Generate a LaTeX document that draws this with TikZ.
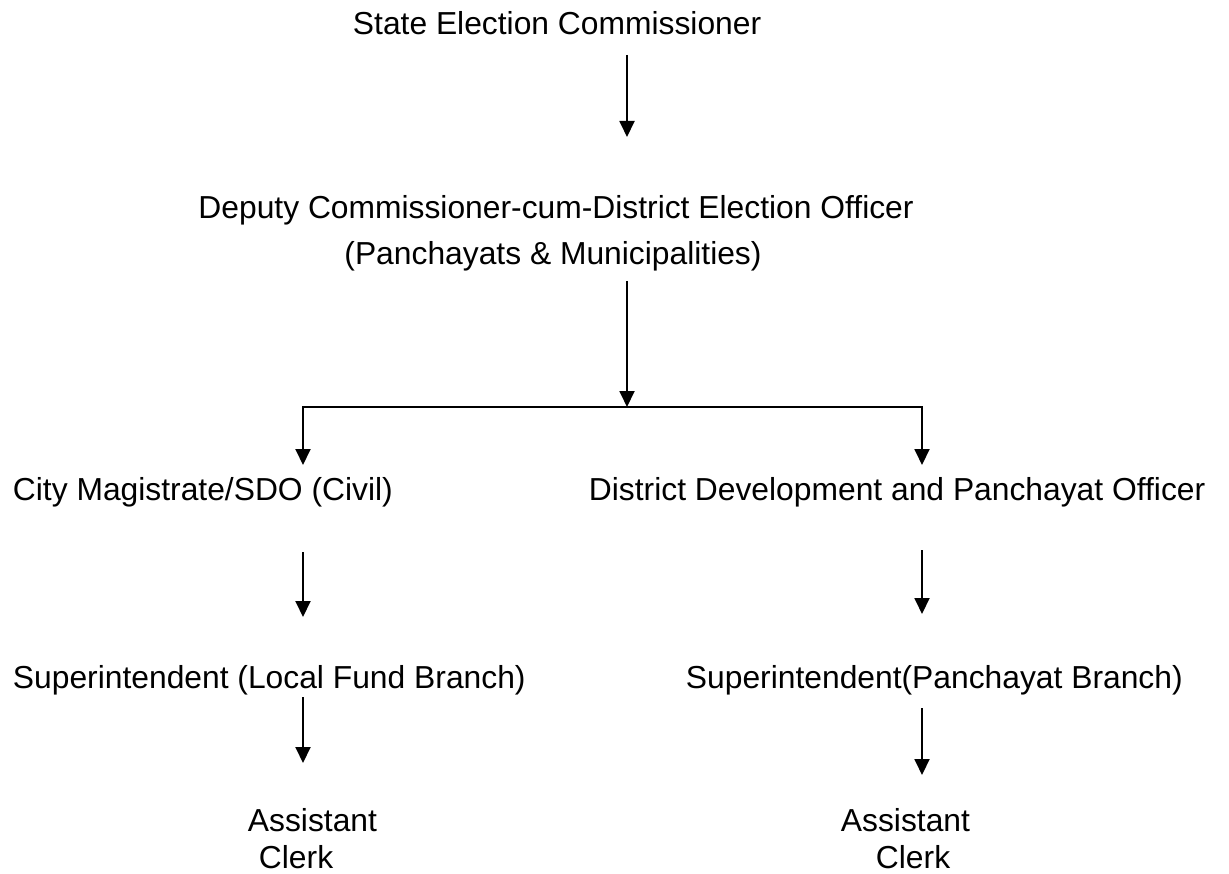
\documentclass[tikz,border=0pt]{standalone}
\usepackage{fontspec}
\setmainfont{Liberation Sans}
\usetikzlibrary{arrows.meta}

\begin{document}
\begin{tikzpicture}[x=0.02cm, y=-0.02cm, line width=1.1pt,
    >={Triangle[length=0.32cm, width=0.3cm]},
    post/.style={inner sep=0pt, anchor=base west, font=\fontsize{18.1}{20.5}\selectfont}]
    \useasboundingbox (0,0) rectangle (1229,874);

    \node[post] (sec) at (352,35) {State Election Commissioner};
    \node[post, anchor=base, align=center, font=\fontsize{18.1}{26.2}\selectfont] (deo) at (556,265)
        {Deputy Commissioner-cum-District Election Officer\\(Panchayats \& Municipalities)\hspace*{0.12cm}};
    \node[post] (cm) at (12,500) {City Magistrate/SDO (Civil)};
    \node[post] (ddpo) at (588,500) {District Development and Panchayat Officer};
    \node[post] (suplf) at (12,688) {Superintendent (Local Fund Branch)};
    \node[post] (suppb) at (685,688) {Superintendent(Panchayat Branch)};
    \node[post, align=left] (acl) at (247,868) {Assistant\\\hspace*{0.22cm}Clerk};
    \node[post, align=left] (acr) at (840,868) {Assistant\\\hspace*{0.7cm}Clerk};

    \coordinate (a1) at (627,55);  \coordinate (a1e) at (627,137);
    \coordinate (a2) at (627,281); \coordinate (split) at (627,407);
    \coordinate (l1) at (303,465); \coordinate (r1) at (922,465);
    \coordinate (l2) at (303,552); \coordinate (l2e) at (303,617);
    \coordinate (r2) at (922,550); \coordinate (r2e) at (922,614);
    \coordinate (l3) at (303,697); \coordinate (l3e) at (303,763);
    \coordinate (r3) at (922,708); \coordinate (r3e) at (922,775);

    \draw[->] (a1) -- (a1e);
    \draw[->] (a2) -- (split);
    \draw[->] (split) -| (l1);
    \draw[->] (split) -| (r1);
    \draw[->] (l2) -- (l2e);
    \draw[->] (r2) -- (r2e);
    \draw[->] (l3) -- (l3e);
    \draw[->] (r3) -- (r3e);

\end{tikzpicture}
\end{document}
